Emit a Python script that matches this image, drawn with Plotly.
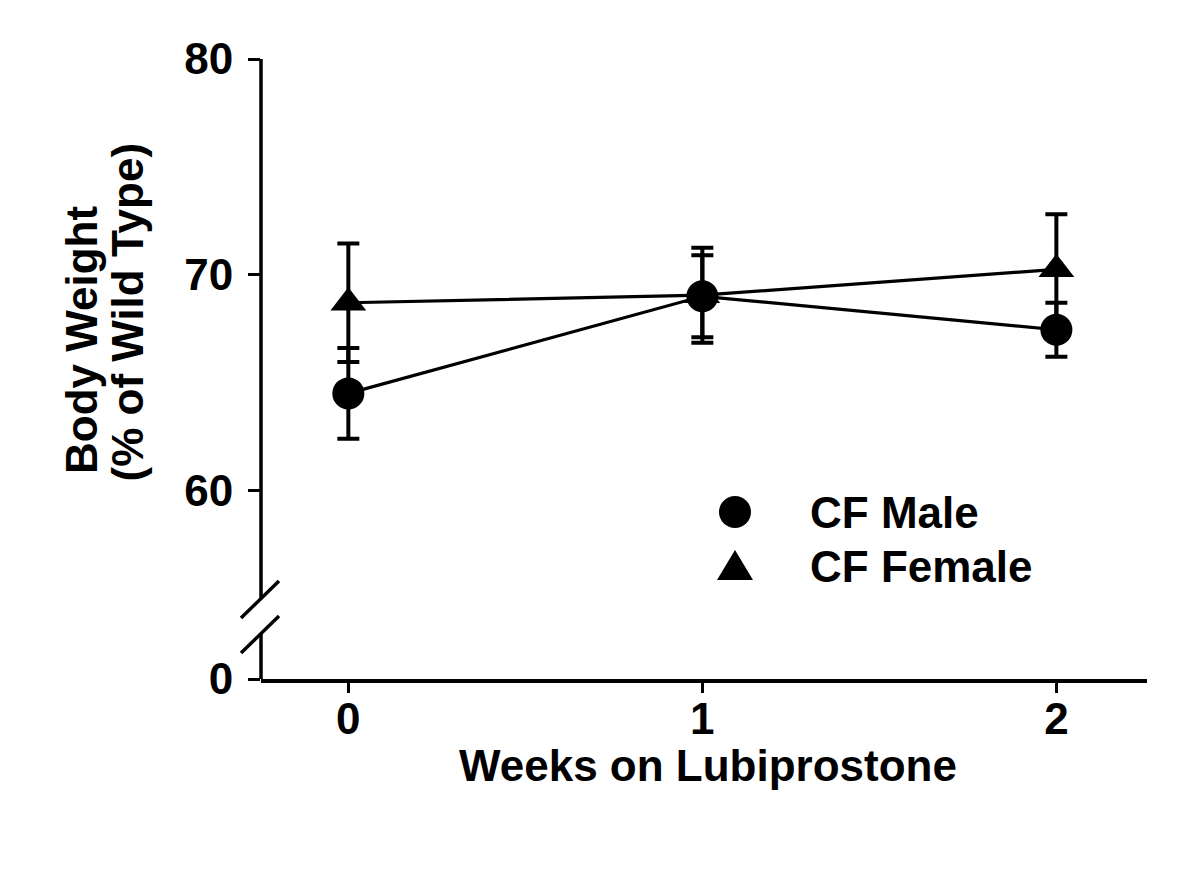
import plotly.graph_objects as go

# ---- data ----
weeks = [0, 1, 2]
tick_labels_x = ["0", "1", "2"]
male = [64.5, 69.0, 67.45]
male_err = [2.1, 1.9, 1.25]
female = [68.7, 69.05, 70.25]
female_err = [2.75, 2.2, 2.55]
y_tickvals = [51.26, 60, 70, 80]
y_ticktext = ["0", "60", "70", "80"]
series_names = ["CF Male", "CF Female"]

FONT = "Liberation Sans, Arial, Helvetica, sans-serif"
BLACK = "#000000"

fig = go.Figure()

fig.add_trace(go.Scatter(
    x=weeks, y=female, mode="lines+markers", name=series_names[1],
    line=dict(color=BLACK, width=3.2),
    marker=dict(symbol="triangle-up", size=31, color=BLACK),
    error_y=dict(type="data", array=female_err, visible=True,
                 color=BLACK, thickness=4, width=11),
    showlegend=False,
))
fig.add_trace(go.Scatter(
    x=weeks, y=male, mode="lines+markers", name=series_names[0],
    line=dict(color=BLACK, width=3.2),
    marker=dict(symbol="circle", size=32, color=BLACK),
    error_y=dict(type="data", array=male_err, visible=True,
                 color=BLACK, thickness=4, width=11),
    showlegend=False,
))

# page body has an 8px default margin: work in reference pixels, shifted
OFF = 8
L, R, T, B = 261 - OFF, 1147 - OFF, 59 - OFF, 679 - OFF
W, H = R - L, B - T
def px(x):
    return (x - OFF - L) / W
def py(y):
    return (B - (y - OFF)) / H

shapes = []
# broken y axis line
shapes.append(dict(type="line", xref="paper", yref="paper", x0=0, x1=0,
                   y0=py(599), y1=1.0, line=dict(color=BLACK, width=3.5)))
shapes.append(dict(type="line", xref="paper", yref="paper", x0=0, x1=0,
                   y0=0, y1=py(634), line=dict(color=BLACK, width=3.5)))
# break slashes
shapes.append(dict(type="line", xref="paper", yref="paper",
                   x0=px(241), y0=py(618), x1=px(279), y1=py(581),
                   line=dict(color=BLACK, width=3.5)))
shapes.append(dict(type="line", xref="paper", yref="paper",
                   x0=px(241), y0=py(653), x1=px(279), y1=py(616),
                   line=dict(color=BLACK, width=3.5)))
# legend symbols
cx, r = 735, 16
shapes.append(dict(type="circle", xref="paper", yref="paper",
                   x0=px(cx - r), x1=px(cx + r), y0=py(512 + r), y1=py(512 - r),
                   fillcolor=BLACK, line=dict(color=BLACK, width=0)))
tri = "M {x0},{y0} L {x1},{y1} L {x2},{y2} Z".format(
    x0=px(cx - 18), y0=py(580), x1=px(cx + 18), y1=py(580),
    x2=px(cx), y2=py(550))
shapes.append(dict(type="path", xref="paper", yref="paper", path=tri,
                   fillcolor=BLACK, line=dict(color=BLACK, width=0)))

tf = dict(family=FONT, size=44, color=BLACK, weight="bold")
annotations = [
    dict(text=series_names[0], x=px(808), y=py(512), xref="paper", yref="paper",
         xanchor="left", yanchor="middle", showarrow=False, font=tf),
    dict(text=series_names[1], x=px(808), y=py(566), xref="paper", yref="paper",
         xanchor="left", yanchor="middle", showarrow=False, font=tf),
    dict(text="Weeks on Lubiprostone", x=px(708), y=py(765), xref="paper", yref="paper",
         xanchor="center", yanchor="middle", showarrow=False, font=tf),
    dict(text="Body Weight", x=px(81), y=py(476),
         xref="paper", yref="paper", xanchor="center", yanchor="bottom",
         textangle=-90, showarrow=False, font=tf),
    dict(text="(% of Wild Type)", x=px(127), y=py(484),
         xref="paper", yref="paper", xanchor="center", yanchor="bottom",
         textangle=-90, showarrow=False, font=tf),
]

fig.update_layout(
    width=1200, height=871,
    margin=dict(l=L, r=1200 - R, t=T, b=871 - B, pad=0),
    paper_bgcolor="white", plot_bgcolor="white",
    font=tf,
    shapes=shapes, annotations=annotations,
    xaxis=dict(range=[-0.2467, 2.256], tickvals=weeks, ticktext=tick_labels_x,
               showline=True, linecolor=BLACK, linewidth=3.5,
               ticks="outside", ticklen=10, tickwidth=3, tickcolor=BLACK,
               showgrid=False, zeroline=False, ticklabelstandoff=-12,
               tickfont=tf),
    yaxis=dict(range=[51.26, 80], tickvals=y_tickvals, ticktext=y_ticktext,
               showline=False, ticks="outside", ticklen=12, tickwidth=3,
               tickcolor=BLACK, showgrid=False, zeroline=False,
               ticklabelstandoff=6, tickfont=tf),
)

fig.write_html("out.html")
